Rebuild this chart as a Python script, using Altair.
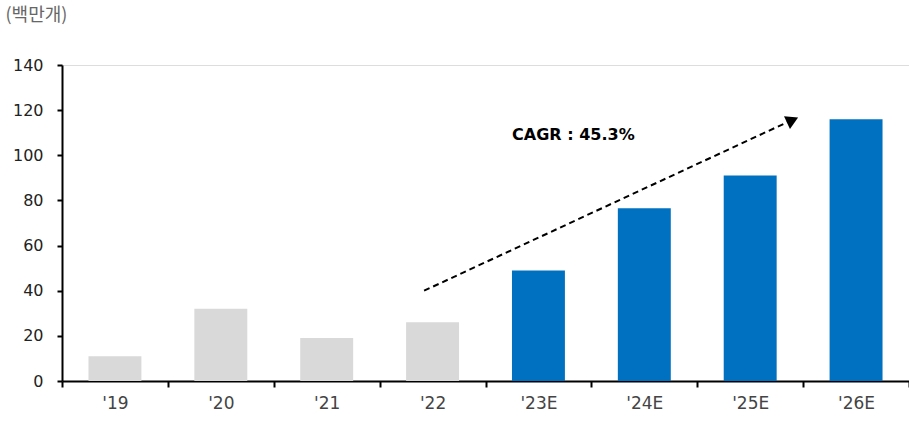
import altair as alt
import pandas as pd

categories = ["'19", "'20", "'21", "'22", "'23E", "'24E", "'25E", "'26E"]
values = [11, 32, 19, 26, 49, 76.5, 91, 116]
is_estimate = [False, False, False, False, True, True, True, True]

arrow_x = [3.42, 6.88]
arrow_y = [40, 115.3]
head_x = [6.90]
head_y = [115.6]
label_x = [4.83]
label_y = [109]
label_text = ["CAGR : 45.3%"]

bars_df = pd.DataFrame({"cat": categories, "val": values,
                        "kind": ["E" if e else "A" for e in is_estimate]})
arrow_df = pd.DataFrame({"x": arrow_x, "y": arrow_y})
head_df = pd.DataFrame({"x": head_x, "y": head_y})
label_df = pd.DataFrame({"x": label_x, "y": label_y, "t": label_text})

FONT = "DejaVu Sans"
KFONT = "Noto Sans CJK KR"

yscale = alt.Scale(domain=[0, 140], nice=False)

bars = alt.Chart(bars_df).mark_bar(width=alt.RelativeBandSize(0.5)).encode(
    x=alt.X("cat:N", sort=categories,
            scale=alt.Scale(paddingInner=0, paddingOuter=0),
            axis=alt.Axis(title=None, labelAngle=0, tickBand="extent",
                          labelFontSize=17, labelColor="#444", labelFont=FONT,
                          labelPadding=8, tickSize=6, tickWidth=2, tickColor="black",
                          domainColor="black", domainWidth=2)),
    y=alt.Y("val:Q", scale=yscale,
            axis=alt.Axis(title="(백만개)", titleAngle=0, titleAlign="left",
                          titleBaseline="middle", titleX=-57, titleY=-50,
                          titleFontSize=18, titleFontWeight="normal", titleColor="#666",
                          titleFont=KFONT,
                          values=[0, 20, 40, 60, 80, 100, 120, 140],
                          labelFontSize=16, labelColor="#222", labelFont=FONT,
                          labelPadding=14, tickSize=5, tickWidth=2, tickColor="black",
                          domainColor="black", domainWidth=2, grid=False)),
    color=alt.Color("kind:N", scale=alt.Scale(domain=["A", "E"], range=["#d9d9d9", "#0070c0"]),
                    legend=None),
)

xq = alt.Scale(domain=[0, 8], nice=False, zero=False)

arrow = alt.Chart(arrow_df).mark_line(color="black", strokeWidth=2, strokeDash=[6, 4]).encode(
    x=alt.X("x:Q", scale=xq, axis=None),
    y=alt.Y("y:Q", scale=yscale),
)

head = alt.Chart(head_df).mark_point(shape="triangle-right", filled=True, color="black",
                                     size=200, angle=335, opacity=1).encode(
    x=alt.X("x:Q", scale=xq, axis=None),
    y=alt.Y("y:Q", scale=yscale),
)

label = alt.Chart(label_df).mark_text(fontSize=16, fontWeight="bold", font=FONT,
                                      color="black", align="center", baseline="middle").encode(
    x=alt.X("x:Q", scale=xq, axis=None),
    y=alt.Y("y:Q", scale=yscale),
    text="t:N",
)

chart = alt.layer(bars, arrow, head, label).resolve_scale(x="independent").properties(
    width=847, height=316,
    autosize=alt.AutoSizeParams(type="none"),
    padding={"left": 62, "top": 65, "right": 0, "bottom": 41},
).configure_view(stroke=None).configure(background="white")

chart.save("out.html", embed_options={"renderer": "svg", "actions": False})
